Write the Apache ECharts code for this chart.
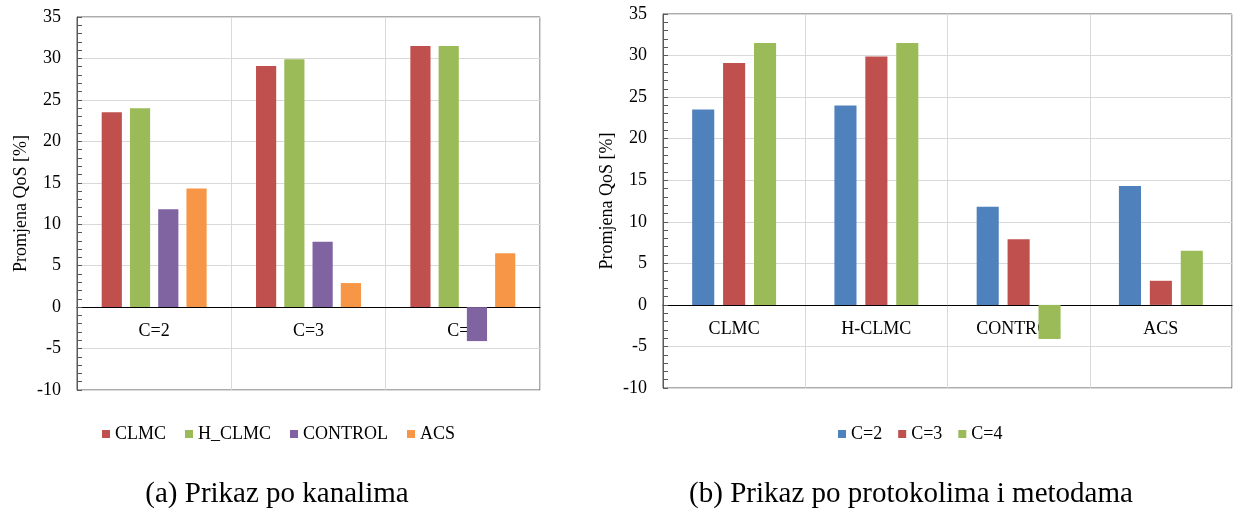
<!DOCTYPE html>
<html>
<head>
<meta charset="utf-8">
<script src="https://cdn.jsdelivr.net/npm/echarts@6/dist/echarts.min.js"></script>
<style>
  html, body { margin: 0; padding: 0; background: #fff; }
  #main { width: 1233px; height: 510px; }
</style>
</head>
<body>
<div id="main"></div>
<script>
var chart = echarts.init(document.getElementById('main'));

// (a) po kanalima
var channels = ['C=2', 'C=3', 'C=4'];
var clmc    = [23.5, 29.1, 31.5];
var hclmc   = [24.0, 29.9, 31.5];
var control = [11.8, 7.9, -4.1];
var acs     = [14.3, 2.9, 6.5];

// (b) po protokolima i metodama
var methods = ['CLMC', 'H-CLMC', 'CONTROL', 'ACS'];
var c2 = [clmc[0], hclmc[0], control[0], acs[0]];
var c3 = [clmc[1], hclmc[1], control[1], acs[1]];
var c4 = [clmc[2], hclmc[2], control[2], acs[2]];

var yTicks = { min: -10, max: 35, interval: 5 };

var FONT = 'Liberation Serif';
var RED = '#C0504D', GREEN = '#9BBB59', PURPLE = '#8064A2', ORANGE = '#F79646', BLUE = '#4F81BD';

function valueAxis(gridIndex) {
    return {
        type: 'value',
        gridIndex: gridIndex,
        min: yTicks.min,
        max: yTicks.max,
        interval: yTicks.interval,
        name: 'Promjena QoS [%]',
        nameLocation: 'middle',
        nameGap: 47,
        nameTextStyle: { fontFamily: FONT, fontSize: 18, color: '#000' },
        axisLine: { show: true, lineStyle: { color: '#595959' } },
        axisTick: { show: true, inside: true, length: 5, lineStyle: { color: '#595959' } },
        minorTick: { show: true, splitNumber: 5, length: 5, lineStyle: { color: '#595959' } },
        axisLabel: { fontFamily: FONT, fontSize: 18, color: '#000', margin: 16 },
        splitLine: { show: true, lineStyle: { color: '#D9D9D9' } }
    };
}

// the category line sits on y=0; shift it up from the grid bottom
function catAxis(gridIndex, cats, shift) {
    return {
        type: 'category',
        gridIndex: gridIndex,
        data: cats,
        offset: shift,
        axisLine: { onZero: false, lineStyle: { color: '#000' } },
        axisTick: { show: false },
        axisLabel: { fontFamily: FONT, fontSize: 18, color: '#000', margin: 15 },
        splitLine: { show: true, lineStyle: { color: '#D9D9D9' } }
    };
}

function bar(name, data, color, idx, gap, catGap) {
    return {
        name: name,
        type: 'bar',
        xAxisIndex: idx,
        yAxisIndex: idx,
        data: data,
        barGap: gap,
        barCategoryGap: catGap,
        itemStyle: { color: color },
        z: 3
    };
}

var option = {
    backgroundColor: '#fff',
    animation: false,
    grid: [
        { left: 77, top: 17, width: 463, height: 373, show: true, borderColor: '#595959', borderWidth: 1 },
        { left: 663, top: 14, width: 569, height: 374, show: true, borderColor: '#595959', borderWidth: 1 }
    ],
    xAxis: [catAxis(0, channels, -83), catAxis(1, methods, -83)],
    yAxis: [valueAxis(0), valueAxis(1)],
    legend: [
        {
            left: 97, top: 420,
            data: ['CLMC', 'H_CLMC', 'CONTROL', 'ACS'],
            icon: 'rect', itemWidth: 8, itemHeight: 8, itemGap: 19,
            textStyle: { fontFamily: FONT, fontSize: 18, color: '#000' }
        },
        {
            left: 833, top: 420,
            data: ['C=2', 'C=3', 'C=4'],
            icon: 'rect', itemWidth: 8, itemHeight: 8, itemGap: 16,
            textStyle: { fontFamily: FONT, fontSize: 18, color: '#000' }
        }
    ],
    graphic: [
        { type: 'text', x: 277, y: 494, style: { text: '(a) Prikaz po kanalima', font: '29px "Liberation Serif"', fill: '#000', align: 'center', verticalAlign: 'middle' } },
        { type: 'text', x: 911, y: 494, style: { text: '(b) Prikaz po protokolima i metodama', font: '29px "Liberation Serif"', fill: '#000', align: 'center', verticalAlign: 'middle' } }
    ],
    series: [
        bar('CLMC', clmc, RED, 0, '40%', '32%'),
        bar('H_CLMC', hclmc, GREEN, 0, '40%', '32%'),
        bar('CONTROL', control, PURPLE, 0, '40%', '32%'),
        bar('ACS', acs, ORANGE, 0, '40%', '32%'),
        bar('C=2', c2, BLUE, 1, '40%', '41%'),
        bar('C=3', c3, RED, 1, '40%', '41%'),
        bar('C=4', c4, GREEN, 1, '40%', '41%')
    ]
};
chart.setOption(option);
</script>
</body>
</html>
